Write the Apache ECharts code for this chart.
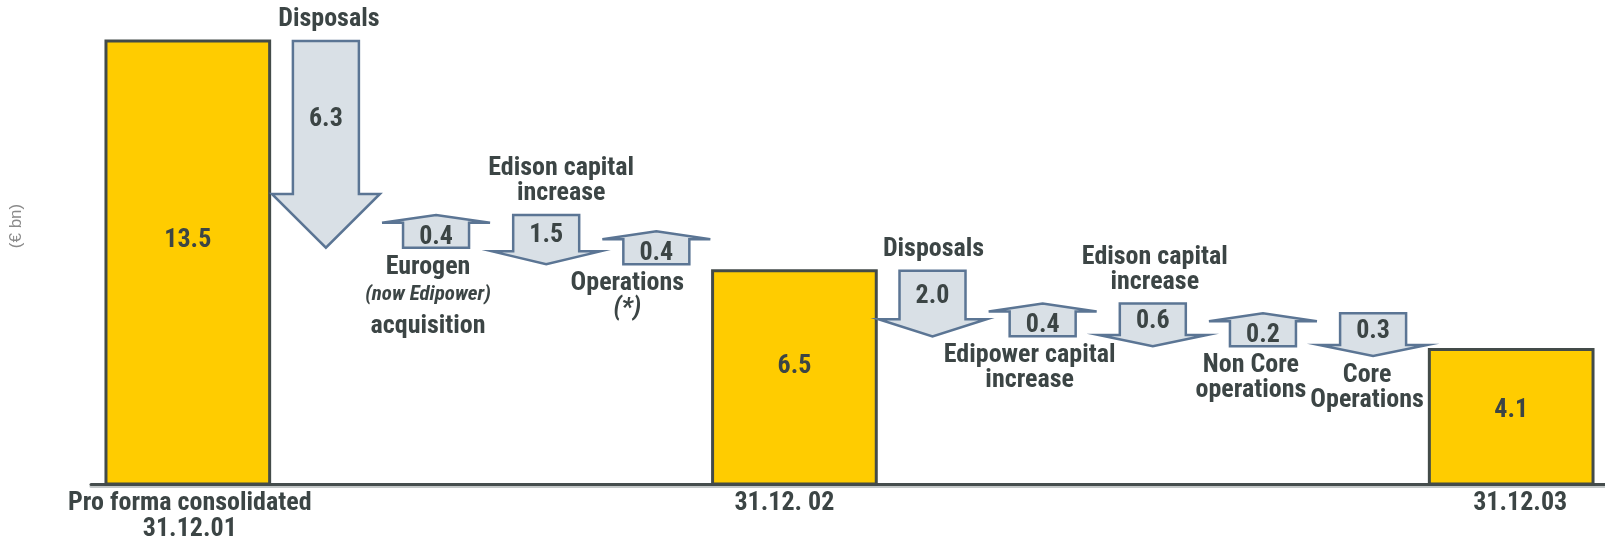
<!DOCTYPE html>
<html>
<head>
<meta charset="utf-8">
<script src="https://cdn.jsdelivr.net/npm/echarts@6/dist/echarts.min.js"></script>
<style>html,body{margin:0;padding:0;background:#fff}#c{width:1605px;height:543px}</style>
</head>
<body>
<div id="c"></div>
<script>
// ---------------- DATA ----------------
const categories = [
  'Pro forma consolidated\n31.12.01',
  'Disposals',
  'Eurogen\n{i|(now Edipower)}\n{a|acquisition}',
  'Edison capital\nincrease',
  'Operations\n{j|(*)}',
  '31.12. 02',
  'Disposals',
  'Edipower capital\nincrease',
  'Edison capital\nincrease',
  'Non Core\noperations',
  'Core\nOperations',
  '31.12.03'
];
const kinds = ['total','delta','delta','delta','delta','total','delta','delta','delta','delta','delta','total'];
const values = [13.5, -6.3, 0.4, -1.5, 0.4, 6.5, -2.0, 0.4, -0.6, 0.2, -0.3, 4.1];
const valueLabels = ['13.5','6.3','0.4','1.5','0.4','6.5','2.0','0.4','0.6','0.2','0.3','4.1'];
const unitLabel = '(€ bn)';

// ---------------- STYLE / LAYOUT ----------------
const FONT = "'Roboto Condensed','Open Sans Condensed','DejaVu Sans Condensed',sans-serif";
const TEXT = '#3c4545';
const BAR_FILL = '#FFCC00', BAR_STROKE = '#434b49';
const ARROW_FILL = '#d9e0e6', ARROW_STROKE = '#5b7594';
const BAR_W = 164, WING_W = 108, SHAFT_W = 66, START_X = 103, END_X = 1593;
const MIN_UP = 1.0, MIN_DOWN = 1.3;   // minimum drawn arrow length (€ bn) so small arrows stay legible
const labelSide = ['axis','top','bottom','top','bottom','axis','top','bottom','top','bottom','bottom','axis'];
const labelDx = [2, 3, -8, 15, -29, -10, 1, -13, 2, -12, -6, 9];

const widths = kinds.map(k => k === 'total' ? BAR_W : WING_W);
const gap = (END_X - START_X - widths.reduce((a, b) => a + b, 0)) / (kinds.length - 1);
let cursor = START_X;
const centers = widths.map(w => { const c = cursor + w / 2; cursor += w + gap; return c; });

// schematic chain: each arrow starts where the previous mark ended
let level = 0;
const rows = values.map((v, i) => {
  if (kinds[i] === 'total') { level = v; return [centers[i], 0, v, i]; }
  const from = level;
  const len = Math.max(Math.abs(v), v > 0 ? MIN_UP : MIN_DOWN);
  const to = v > 0 ? from + len : from - len;
  level = to;
  return [centers[i], from, to, i];
});

const baseText = { fontFamily: FONT, fontSize: 26, fontWeight: 'bold', fill: TEXT };

function renderItem(params, api) {
  const i = api.value(3);
  const xv = api.value(0);
  const p0 = api.coord([xv, api.value(1)]);
  const p1 = api.coord([xv, api.value(2)]);
  const cx = p0[0];
  const children = [];
  if (kinds[i] === 'total') {
    const w = api.size([BAR_W, 0])[0];
    const top = p1[1], bot = p0[1];
    children.push({ type: 'rect', shape: { x: cx - w / 2, y: top, width: w, height: bot - top },
      style: { fill: BAR_FILL, stroke: BAR_STROKE, lineWidth: 3 } });
    children.push({ type: 'text', style: Object.assign({}, baseText, {
      text: valueLabels[i], x: cx, y: top + (bot - top) * 0.45, align: 'center', verticalAlign: 'middle' }) });
    children.push({ type: 'text', style: Object.assign({}, baseText, {
      text: categories[i], x: cx + labelDx[i], y: bot + 6, align: 'center', verticalAlign: 'top', lineHeight: 26 }) });
  } else {
    const y0 = p0[1], y1 = p1[1];
    const down = y1 > y0;
    const L = Math.abs(y1 - y0);
    const sh = SHAFT_W / 2, wh = WING_W / 2;
    const hh = L * (down ? 0.26 : 0.24);
    const yw = down ? y1 - hh : y1 + hh;
    const pts = [[cx - sh, y0], [cx + sh, y0], [cx + sh, yw], [cx + wh, yw], [cx, y1], [cx - wh, yw], [cx - sh, yw]];
    children.push({ type: 'polygon', shape: { points: pts },
      style: { fill: ARROW_FILL, stroke: ARROW_STROKE, lineWidth: 2.5, lineJoin: 'miter' } });
    children.push({ type: 'text', style: Object.assign({}, baseText, {
      text: valueLabels[i], x: cx, y: (y0 + yw) / 2 + 2, align: 'center', verticalAlign: 'middle' }) });
    const topY = Math.min(y0, y1), botY = Math.max(y0, y1);
    const rich = {
      i: { fontFamily: FONT, fontSize: 21, fontStyle: 'italic', fontWeight: 'bold', fill: TEXT, lineHeight: 30 },
      a: { fontFamily: FONT, fontSize: 26, fontWeight: 'bold', fill: TEXT, lineHeight: 34 },
      j: { fontFamily: FONT, fontSize: 26, fontStyle: 'italic', fontWeight: 'bold', fill: TEXT, lineHeight: 25 }
    };
    if (labelSide[i] === 'top') {
      children.push({ type: 'text', style: Object.assign({}, baseText, {
        text: categories[i], x: cx + labelDx[i], y: topY - 9, align: 'center', verticalAlign: 'bottom', lineHeight: 25, rich }) });
    } else {
      children.push({ type: 'text', style: Object.assign({}, baseText, {
        text: categories[i], x: cx + labelDx[i], y: botY + 7, align: 'center', verticalAlign: 'top', lineHeight: 25, rich }) });
    }
  }
  return { type: 'group', children };
}

const chart = echarts.init(document.getElementById('c'), null, { renderer: 'canvas' });
chart.setOption({
  animation: false,
  backgroundColor: '#ffffff',
  grid: { left: 88, right: 0, top: 0, bottom: 59 },
  xAxis: {
    type: 'value', min: 88, max: 1605,
    offset: 1,
    axisLine: { show: true, lineStyle: { color: '#454d4d', width: 3, shadowColor: '#c4c8c8', shadowOffsetY: 2, shadowBlur: 0 } },
    axisTick: { show: false }, axisLabel: { show: false }, splitLine: { show: false }
  },
  yAxis: {
    type: 'value', min: 0, max: 14.75,
    name: unitLabel, nameLocation: 'middle', nameGap: 66,
    nameTextStyle: { fontFamily: 'Liberation Sans, Arial, sans-serif', fontSize: 17, color: '#8a8a8a', padding: [0, 0, 0, 32] },
    axisLine: { show: false }, axisTick: { show: false }, axisLabel: { show: false }, splitLine: { show: false }
  },
  series: [{
    type: 'custom',
    renderItem,
    data: rows,
    clip: false,
    encode: { x: 0, y: [1, 2] }
  }]
});
</script>
</body>
</html>
